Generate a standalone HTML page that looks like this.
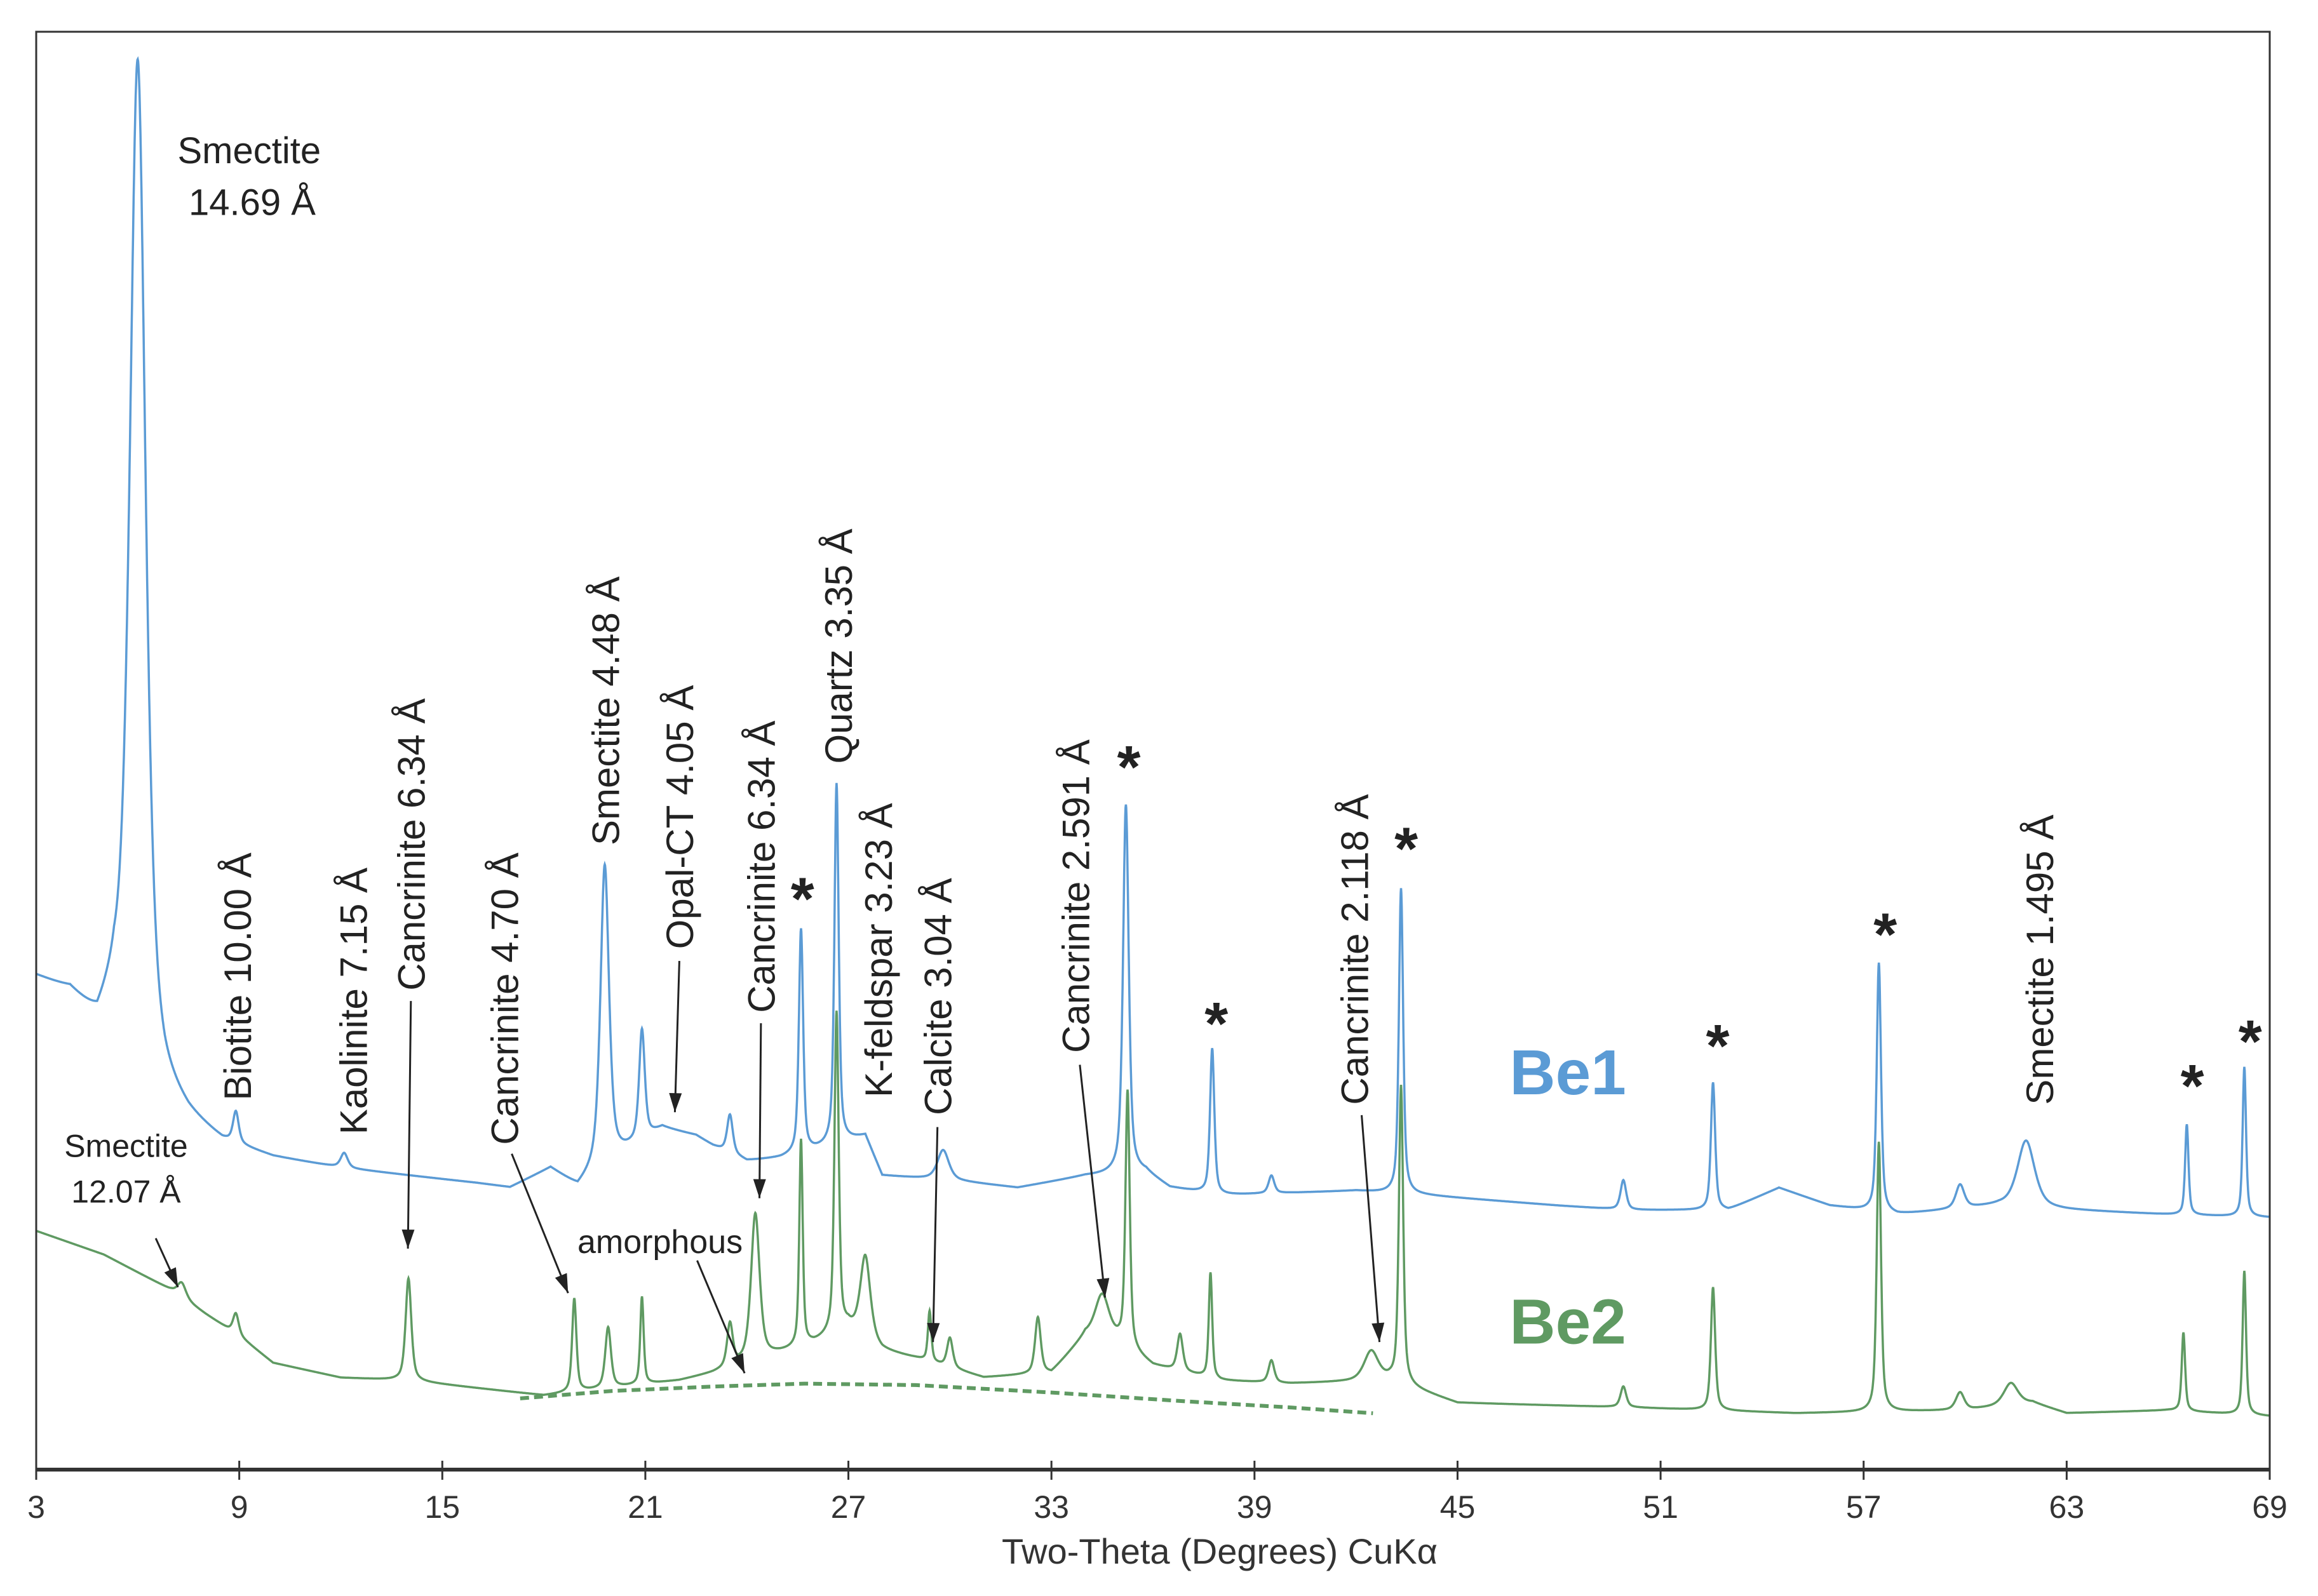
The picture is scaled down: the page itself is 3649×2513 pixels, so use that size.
<!DOCTYPE html>
<html><head><meta charset="utf-8"><style>
html,body{margin:0;padding:0;background:#fff;}
svg{display:block;font-family:"Liberation Sans",sans-serif;}
</style></head><body>
<svg id="chart" width="3649" height="2513" viewBox="0 0 3649 2513" xmlns="http://www.w3.org/2000/svg">
<rect width="3649" height="2513" fill="#fff"/>
<g id="series"></g>
<g id="annos"></g>
<rect x="57" y="50" width="3516" height="2264" fill="none" stroke="#333" stroke-width="3"/>
<line x1="57" y1="2314" x2="3573" y2="2314" stroke="#333" stroke-width="6"/>
<g id="ticks"></g>
<text x="1920" y="2462" font-size="56" text-anchor="middle" fill="#333">Two-Theta (Degrees) CuKα</text>
</svg>
<script>
// ---- data ----
const xTicks = [3,9,15,21,27,33,39,45,51,57,63,69];
const be1BaseTheta = [3,4,4.8,5.3,6.8,7.5,8.5,10,12,14,16,17,18.2,19,19.5,20.5,21.5,22.5,23,24,25,26,27.5,28,30,32,34,35.8,36.5,38,42,44,48,50,53,54.5,56,58,61,63,66,69];
const be1BaseVal   = [331,320,296,310,250,235,220,210,203,198,193,190,203,190,200,215,230,225,218,208,210,215,225,198,195,190,198,200,190,185,188,185,178,175,175,190,178,172,178,175,172,170];
const be1PeakPos = [6.0,8.9,12.1,19.8,20.9,23.5,25.6,26.65,29.8,35.2,37.75,39.5,43.33,49.9,52.55,57.45,59.85,61.8,66.55,68.25];
const be1PeakH   = [669,21,10,203,74,26,151,243,20,249,98,12,206,20,86,168,16,45,61,101];
const be1PeakW   = [0.55,0.2,0.25,0.3,0.2,0.2,0.15,0.15,0.4,0.2,0.15,0.2,0.15,0.2,0.15,0.15,0.3,0.6,0.12,0.12];
const be2BaseTheta = [3,5,7,8,9,10,12,14,16,18,20,22,23,24.5,26,27,28,29,31,33,34,35,36,38,40,43,45,50,55,60,62,63,66,69];
const be2BaseVal   = [161,145,121,105,90,72,62,60,55,50,55,60,65,75,85,95,80,75,62,65,90,85,70,60,58,60,45,42,38,40,45,38,40,36];
const be2PeakPos = [7.3,8.9,14.0,18.9,19.9,20.9,23.5,24.25,25.6,26.65,27.5,29.4,30.0,32.6,34.5,35.25,36.8,37.7,39.5,42.45,43.33,49.9,52.55,57.45,59.85,61.35,66.45,68.25];
const be2PeakH   = [10,14,69,63,41,59,29,99,139,216,56,34,20,38,30,173,25,71,15,20,201,14,83,182,12,15,53,97];
const be2PeakW   = [0.3,0.2,0.2,0.15,0.2,0.12,0.2,0.3,0.12,0.15,0.35,0.12,0.2,0.2,0.5,0.15,0.2,0.12,0.2,0.5,0.15,0.2,0.15,0.15,0.3,0.5,0.12,0.12];
const amorphTheta = [17.3,20,23,25.7,29,33,37,40,42.5];
const amorphVal   = [48,53,56,58,57,52,46,42,38];

// ---- axes ----
const X0=57, X1=3573, YB=2314, SY=2.335;
const xs = t => X0 + (t-3)/66*(X1-X0);
const ys = v => YB - v*SY;
const NS="http://www.w3.org/2000/svg";
function interp(tx,ty,t){for(let i=0;i<tx.length-1;i++){if(t<=tx[i+1]){const f=(t-tx[i])/(tx[i+1]-tx[i]);return ty[i]+f*(ty[i+1]-ty[i]);}}return ty[ty.length-1];}
function intensity(bt,bv,pp,ph,pw,t){let v=interp(bt,bv,t);for(let i=0;i<pp.length;i++){const d=(t-pp[i])/(pw[i]/2);v+=ph[i]*(0.6/(1+d*d)+0.4*Math.exp(-0.693*d*d));}return v;}
function seriesPath(bt,bv,pp,ph,pw){let d="";for(let t=3;t<=69.0001;t+=0.01){d+=(d?"L":"M")+xs(t).toFixed(1)+","+ys(intensity(bt,bv,pp,ph,pw,t)).toFixed(1);}return d;}
const sg=document.getElementById("series");
let p=document.createElementNS(NS,"path");


p.setAttribute("d",seriesPath(be1BaseTheta,be1BaseVal,be1PeakPos,be1PeakH,be1PeakW));
p.setAttribute("fill","none");p.setAttribute("stroke","#5b9bd5");p.setAttribute("stroke-width","3.5");sg.appendChild(p);
p=document.createElementNS(NS,"path");


p.setAttribute("d",seriesPath(be2BaseTheta,be2BaseVal,be2PeakPos,be2PeakH,be2PeakW));
p.setAttribute("fill","none");p.setAttribute("stroke","#5f9a62");p.setAttribute("stroke-width","3.5");sg.appendChild(p);
let ad="";for(let i=0;i<amorphTheta.length;i++){ad+=(i?"L":"M")+xs(amorphTheta[i]).toFixed(1)+","+ys(amorphVal[i]).toFixed(1);}
p=document.createElementNS(NS,"path");


p.setAttribute("d",ad);p.setAttribute("fill","none");p.setAttribute("stroke","#5f9a62");p.setAttribute("stroke-width","6");p.setAttribute("stroke-dasharray","14,8");sg.appendChild(p);

const tg=document.getElementById("ticks");
for(const t of xTicks){
 const l=document.createElementNS(NS,"line");
 
 
 l.setAttribute("x1",xs(t));l.setAttribute("x2",xs(t));l.setAttribute("y1",2300);l.setAttribute("y2",2330);l.setAttribute("stroke","#333");l.setAttribute("stroke-width","3");tg.appendChild(l);
 const tx=document.createElementNS(NS,"text");
 
 
 tx.setAttribute("x",xs(t));tx.setAttribute("y",2390);tx.setAttribute("font-size","50");tx.setAttribute("text-anchor","middle");tx.setAttribute("fill","#333");tx.textContent=t;tg.appendChild(tx);
}

// ---- annotations (display coords * 2.335) ----
const K=2.335;
const ag=document.getElementById("annos");
function addText(name,str,x,y,size,opts){const e=document.createElementNS(NS,"text");
 
 
 e.setAttribute("font-size",size);e.setAttribute("fill",opts.fill||"#222");
 if(opts.bold)e.setAttribute("font-weight","bold");
 if(opts.rot){e.setAttribute("x",x*K+size*0.36);e.setAttribute("y",y*K);e.setAttribute("transform","rotate(-90 "+(x*K+size*0.36)+" "+(y*K)+")");}
 else{e.setAttribute("x",x*K);e.setAttribute("y",y*K);e.setAttribute("text-anchor","middle");}
 e.textContent=str;ag.appendChild(e);}
function addArrow(name,x1,y1,x2,y2){const a=x1*K,b=y1*K,c=x2*K,d=y2*K;
 const l=document.createElementNS(NS,"line");
 
 
 l.setAttribute("x1",a);l.setAttribute("y1",b);l.setAttribute("x2",c);l.setAttribute("y2",d);l.setAttribute("stroke","#222");l.setAttribute("stroke-width","3");ag.appendChild(l);
 const ang=Math.atan2(d-b,c-a),L=30,W=10;
 const pts=[[c,d],[c-L*Math.cos(ang)+W*Math.sin(ang),d-L*Math.sin(ang)-W*Math.cos(ang)],[c-L*Math.cos(ang)-W*Math.sin(ang),d-L*Math.sin(ang)+W*Math.cos(ang)]];
 const h=document.createElementNS(NS,"polygon");
 
 
 h.setAttribute("points",pts.map(q=>q.join(",")).join(" "));h.setAttribute("fill","#222");ag.appendChild(h);}
const R={rot:true};
const RS=60;
addText("smectite-label","Smectite",168,110,58,{});
addText("smectite-label-d","14.69 Å",170,145,58,{});
addText("biotite-label","Biotite 10.00 Å",160,742,RS,R);
addText("kaolinite-label","Kaolinite 7.15 Å",238,765,RS,R);
addText("cancrinite-634-label","Cancrinite 6.34 Å",277,668,RS,R);
addArrow("cancrinite-634-arrow",277,675,275,842);
addText("cancrinite-470-label","Cancrinite 4.70 Å",340,772,RS,R);
addArrow("cancrinite-470-arrow",345,778,383,872);
addText("smectite-448-label","Smectite 4.48 Å",408,570,RS,R);
addText("opal-ct-label","Opal-CT 4.05 Å",458,640,RS,R);
addArrow("opal-ct-arrow",458,648,455,750);
addText("cancrinite-634b-label","Cancrinite 6.34 Å",513,683,RS,R);
addArrow("cancrinite-634b-arrow",513,690,512,808);
addText("quartz-label","Quartz 3.35 Å",565,515,RS,R);
addText("k-feldspar-label","K-feldspar 3.23 Å",592,740,RS,R);
addText("calcite-label","Calcite 3.04 Å",632,752,RS,R);
addArrow("calcite-arrow",632,760,629,905);
addText("cancrinite-2591-label","Cancrinite 2.591 Å",725,710,RS,R);
addArrow("cancrinite-2591-arrow",728,718,745,875);
addText("cancrinite-2118-label","Cancrinite 2.118 Å",913,745,RS,R);
addArrow("cancrinite-2118-arrow",918,752,930,905);
addText("smectite-1495-label","Smectite 1.495 Å",1375,745,RS,R);
addText("smectite-1207-label","Smectite",85,780,50,{});
addText("smectite-1207-label-d","12.07 Å",85,811,50,{});
addArrow("smectite-1207-arrow",105,835,120,868);
addText("amorphous-label","amorphous",445,845,52,{});
addArrow("amorphous-arrow",470,850,502,926);
const stars=[[541,620],[761,531],[820,704],[948,586],[1158,719],[1271,644],[1478,746],[1517,716]];
for(const s of stars){addText("quartz-asterisk","*",s[0],s[1],95,{bold:true});}
addText("be1-legend","Be1",1057,738,100,{bold:true,fill:"#5b9bd5"});
addText("be2-legend","Be2",1057,906,100,{bold:true,fill:"#5f9a62"});
</script>
</body></html>
